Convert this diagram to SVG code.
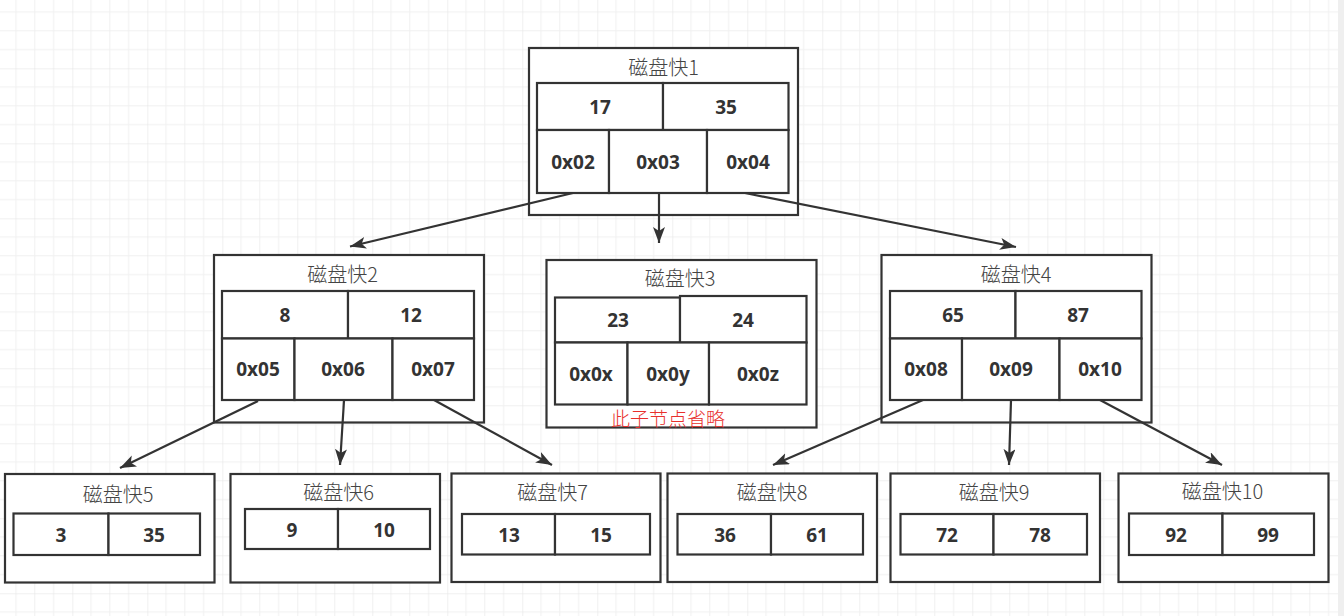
<svg xmlns="http://www.w3.org/2000/svg" width="1344" height="616" viewBox="0 0 1344 616">
  <style>
    .box { fill: #ffffff; stroke: #333333; stroke-width: 2.2; }
    .cell { fill: #ffffff; stroke: #333333; stroke-width: 2.2; }
    .title { font-family: "Noto Sans CJK SC", "Microsoft YaHei", sans-serif; font-size: 20px; font-weight: 300; fill: #444444; text-anchor: middle; dominant-baseline: central; }
    .val { font-family: "Open Sans", "Noto Sans", sans-serif; font-weight: 700; font-size: 19px; fill: #333333; text-anchor: middle; dominant-baseline: central; }
    .note { font-family: "Noto Sans CJK SC", sans-serif; font-size: 19px; font-weight: 300; fill: #e8302c; text-anchor: middle; dominant-baseline: central; }
    .edge { stroke: #333333; stroke-width: 2.2; fill: none; marker-end: url(#arrow); }
  </style>
  <defs>
    <pattern id="grid" patternUnits="userSpaceOnUse" x="-2.7" y="-6.7" width="75" height="75">
      <path d="M18.75 0V75M37.5 0V75M56.25 0V75M0 18.75H75M0 37.5H75M0 56.25H75" stroke="#f0f0f0" stroke-width="1"/>
      <path d="M0 0V75M0 0H75" stroke="#e2e2e2" stroke-width="1"/>
    </pattern>
    <marker id="arrow" markerUnits="userSpaceOnUse" markerWidth="18" markerHeight="14" refX="16" refY="6" orient="auto">
      <path d="M0,0 L16,6 L0,12 L4,6 Z" fill="#333333"/>
    </marker>
  </defs>

  <!-- background grid -->
  <rect x="0" y="0" width="1344" height="616" fill="#ffffff"/>
  <rect x="0" y="0" width="1338" height="616" fill="url(#grid)"/>
  <rect x="1338" y="0" width="6" height="616" fill="#efefef"/>

  <!-- root block -->
  <g id="block1">
    <rect class="box" x="529" y="48" width="269" height="167"/>
    <text class="title" x="663.5" y="66">磁盘快1</text>
    <rect class="cell" x="537" y="83" width="126" height="47"/>
    <rect class="cell" x="663" y="83" width="125.5" height="47"/>
    <rect class="cell" x="537" y="130" width="72" height="63"/>
    <rect class="cell" x="609" y="130" width="98" height="63"/>
    <rect class="cell" x="707" y="130" width="81.5" height="63"/>
    <text class="val" x="600" y="107">17</text>
    <text class="val" x="726" y="107">35</text>
    <text class="val" x="573" y="162">0x02</text>
    <text class="val" x="658" y="162">0x03</text>
    <text class="val" x="748" y="162">0x04</text>
  </g>

  <g id="block2">
    <rect class="box" x="214" y="255" width="270" height="167.5"/>
    <text class="title" x="342.5" y="273">磁盘快2</text>
    <rect class="cell" x="222" y="291" width="126" height="47.5"/>
    <rect class="cell" x="348" y="291" width="126" height="47.5"/>
    <rect class="cell" x="222" y="338.5" width="72.5" height="61.5"/>
    <rect class="cell" x="294.5" y="338.5" width="98" height="61.5"/>
    <rect class="cell" x="392.5" y="338.5" width="81.5" height="61.5"/>
    <text class="val" x="285" y="315">8</text>
    <text class="val" x="411" y="315">12</text>
    <text class="val" x="258" y="369">0x05</text>
    <text class="val" x="343" y="369">0x06</text>
    <text class="val" x="433" y="369">0x07</text>
  </g>

  <g id="block3">
    <rect class="box" x="546.5" y="260" width="270" height="167.5"/>
    <text class="title" x="680" y="277">磁盘快3</text>
    <rect class="cell" x="555" y="297.5" width="125" height="45"/>
    <rect class="cell" x="680" y="296" width="126.5" height="46.5"/>
    <rect class="cell" x="555" y="342.5" width="72.5" height="62"/>
    <rect class="cell" x="627.5" y="342.5" width="81.5" height="62"/>
    <rect class="cell" x="709" y="342.5" width="97.5" height="62"/>
    <text class="val" x="618" y="320">23</text>
    <text class="val" x="743" y="320">24</text>
    <text class="val" x="591" y="374">0x0x</text>
    <text class="val" x="668" y="374">0x0y</text>
    <text class="val" x="758" y="374">0x0z</text>
    <text class="note" x="668" y="417">此子节点省略</text>
  </g>

  <g id="block4">
    <rect class="box" x="881.5" y="255" width="270" height="167.5"/>
    <text class="title" x="1016" y="273">磁盘快4</text>
    <rect class="cell" x="890" y="291" width="125.5" height="47.5"/>
    <rect class="cell" x="1015.5" y="291" width="126" height="47.5"/>
    <rect class="cell" x="890" y="338.5" width="72" height="61.5"/>
    <rect class="cell" x="962" y="338.5" width="97.5" height="61.5"/>
    <rect class="cell" x="1059.5" y="338.5" width="82" height="61.5"/>
    <text class="val" x="953" y="315">65</text>
    <text class="val" x="1078" y="315">87</text>
    <text class="val" x="926" y="369">0x08</text>
    <text class="val" x="1011" y="369">0x09</text>
    <text class="val" x="1100" y="369">0x10</text>
  </g>

  <!-- leaf blocks -->
  <g id="block5">
    <rect class="box" x="5" y="474" width="209.5" height="108.5"/>
    <text class="title" x="118" y="493">磁盘快5</text>
    <rect class="cell" x="13.5" y="513.5" width="95" height="41.5"/>
    <rect class="cell" x="108.5" y="513.5" width="91.5" height="41.5"/>
    <text class="val" x="61" y="535">3</text>
    <text class="val" x="154" y="535">35</text>
  </g>

  <g id="block6">
    <rect class="box" x="230.5" y="474" width="209.5" height="108.5"/>
    <text class="title" x="338.5" y="491">磁盘快6</text>
    <rect class="cell" x="245" y="509" width="93" height="40"/>
    <rect class="cell" x="338" y="509" width="92" height="40"/>
    <text class="val" x="292" y="530">9</text>
    <text class="val" x="384" y="530">10</text>
  </g>

  <g id="block7">
    <rect class="box" x="451.5" y="473.5" width="209" height="108.5"/>
    <text class="title" x="552.5" y="491">磁盘快7</text>
    <rect class="cell" x="462" y="514" width="93" height="40.5"/>
    <rect class="cell" x="555" y="514" width="95" height="40.5"/>
    <text class="val" x="509" y="535">13</text>
    <text class="val" x="601" y="535">15</text>
  </g>

  <g id="block8">
    <rect class="box" x="667.5" y="473.5" width="209.5" height="108.5"/>
    <text class="title" x="772" y="491">磁盘快8</text>
    <rect class="cell" x="677.5" y="514" width="93.5" height="40.5"/>
    <rect class="cell" x="771" y="514" width="92" height="40.5"/>
    <text class="val" x="725" y="535">36</text>
    <text class="val" x="817" y="535">61</text>
  </g>

  <g id="block9">
    <rect class="box" x="890.5" y="473.5" width="209.5" height="108.5"/>
    <text class="title" x="994" y="491">磁盘快9</text>
    <rect class="cell" x="900.5" y="514" width="93" height="40.5"/>
    <rect class="cell" x="993.5" y="514" width="93.5" height="40.5"/>
    <text class="val" x="947" y="535">72</text>
    <text class="val" x="1040" y="535">78</text>
  </g>

  <g id="block10">
    <rect class="box" x="1118.5" y="473.5" width="210" height="108.5"/>
    <text class="title" x="1222.5" y="490">磁盘快10</text>
    <rect class="cell" x="1129" y="513.5" width="93.5" height="41.5"/>
    <rect class="cell" x="1222.5" y="513.5" width="91.5" height="41.5"/>
    <text class="val" x="1176" y="535">92</text>
    <text class="val" x="1268" y="535">99</text>
  </g>

  <!-- pointers from parent slots to child blocks -->
  <g id="connectors">
    <line class="edge" x1="573" y1="193" x2="350" y2="246.5"/>
    <line class="edge" x1="659" y1="193" x2="659" y2="243"/>
    <line class="edge" x1="745" y1="193" x2="1016" y2="247"/>
    <line class="edge" x1="258" y1="401" x2="120" y2="468"/>
    <line class="edge" x1="344" y1="400" x2="340" y2="465"/>
    <line class="edge" x1="434" y1="400" x2="552" y2="465"/>
    <line class="edge" x1="923" y1="400" x2="773" y2="465"/>
    <line class="edge" x1="1011" y1="400" x2="1009" y2="465"/>
    <line class="edge" x1="1100" y1="400" x2="1222" y2="465"/>
  </g>
</svg>
